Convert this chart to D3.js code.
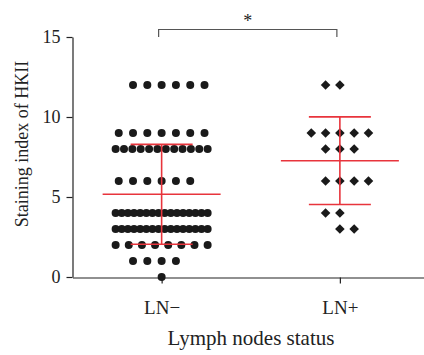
<!DOCTYPE html>
<html>
<head>
<meta charset="utf-8">
<script src="https://cdn.jsdelivr.net/npm/d3@7"></script>
<style>
  body { margin: 0; background: #fff; }
  text { font-family: "Liberation Serif", "Times New Roman", serif; fill: #222; }
</style>
</head>
<body>
<div id="chart"></div>
<script>
// Groups and the individual staining index values (one entry per patient)
const groups = ["LN\u2212", "LN+"];
const lnNeg = [12, 12, 12, 12, 12, 12,
    9, 9, 9, 9, 9, 9, 9,
    8, 8, 8, 8, 8, 8, 8, 8, 8, 8, 8, 8,
    6, 6, 6, 6, 6, 6,
    4, 4, 4, 4, 4, 4, 4, 4, 4, 4, 4, 4, 4, 4, 4, 4,
    3, 3, 3, 3, 3, 3, 3, 3, 3, 3, 3, 3, 3, 3, 3, 3,
    2, 2, 2, 2, 2, 2, 2, 2,
    1, 1, 1, 1,
    0];
const lnPos = [12, 12, 9, 9, 9, 9, 9, 8, 8, 8, 6, 6, 6, 6, 4, 4, 3, 3];
const groupMeans = [5.17, 7.27];
const groupSDs = [3.12, 2.74];
const yTicks = [0, 5, 10, 15];

const width = 424, height = 355;
const serif = '"Liberation Serif", "Times New Roman", serif';

const svg = d3.select("#chart")
    .append("svg")
    .attr("width", width)
    .attr("height", height);

// scales
const y = d3.scaleLinear().domain([0, 15]).range([277, 37]);
const x = d3.scalePoint().domain(groups).range([72.5, 429]).padding(0.5);

// axes
svg.append("g")
    .attr("transform", "translate(72.5,0)")
    .call(d3.axisLeft(y).tickValues(yTicks).tickSize(6).tickSizeOuter(0).tickPadding(6))
    .attr("font-family", serif)
    .call(g => g.selectAll("text").style("font-size", "18px").attr("fill", "#222"))
    .call(g => g.selectAll("path, line").attr("stroke", "#222").attr("stroke-width", 1.2));

svg.append("g")
    .attr("transform", "translate(0,277.5)")
    .call(d3.axisBottom(x).tickSize(6).tickSizeOuter(0).tickPadding(17))
    .attr("font-family", serif)
    .call(g => g.selectAll("text").style("font-size", "19px").attr("fill", "#222"))
    .call(g => g.selectAll("path, line").attr("stroke", "#222").attr("stroke-width", 1.2));

// axis titles
svg.append("text")
    .attr("x", 251)
    .attr("y", 345)
    .attr("text-anchor", "middle")
    .style("font-size", "21px")
    .text("Lymph nodes status");

svg.append("text")
    .attr("transform", "translate(28,144) rotate(-90)")
    .attr("text-anchor", "middle")
    .style("font-size", "18px")
    .text("Staining index of HKII");

// lay the points of one group out in rows, one row per value
const step = 14.3, maxRow = 92;
function layout(values, gi) {
    const rows = Array.from(d3.group(values, d => d)).sort((a, b) => b[0] - a[0]);
    const pts = [];
    rows.forEach(([v, list], i) => {
        const n = list.length;
        const s = Math.min(step, (n - 1) > 0 ? maxRow / (n - 1) : step);
        let start;
        if (s < step || n % 2 === 1) start = -(n - 1) / 2 * s;
        else if ((i + gi) % 2 === 0) start = -(n / 2 - 1) * s;
        else start = -(n / 2) * s;
        list.forEach((d, k) => pts.push({ value: v, dx: start + k * s }));
    });
    return pts;
}

const negPts = layout(lnNeg, 0);
const posPts = layout(lnPos, 1);

svg.selectAll(".dot")
    .data(negPts)
    .enter()
    .append("circle")
    .attr("class", "dot")
    .attr("cx", d => x(groups[0]) + d.dx)
    .attr("cy", d => y(d.value))
    .attr("r", 4)
    .attr("fill", "#1a1a1a");

svg.selectAll(".diamond")
    .data(posPts)
    .enter()
    .append("path")
    .attr("class", "diamond")
    .attr("d", d3.symbol(d3.symbolSquare, 46))
    .attr("transform", d => "translate(" + (x(groups[1]) + d.dx) + "," + y(d.value) + ") rotate(45)")
    .attr("fill", "#1a1a1a");

// mean and SD bars
const red = "#e8343c";
groups.forEach((g, i) => {
    const cx = x(g);
    const m = groupMeans[i], sd = groupSDs[i];
    const bar = svg.append("g").attr("stroke", red).attr("stroke-width", 1.6).attr("fill", "none");
    bar.append("line").attr("x1", cx - 59).attr("x2", cx + 59).attr("y1", y(m)).attr("y2", y(m));
    bar.append("line").attr("x1", cx).attr("x2", cx).attr("y1", y(m - sd)).attr("y2", y(m + sd));
    bar.append("line").attr("x1", cx - 31).attr("x2", cx + 31).attr("y1", y(m + sd)).attr("y2", y(m + sd));
    bar.append("line").attr("x1", cx - 31).attr("x2", cx + 31).attr("y1", y(m - sd)).attr("y2", y(m - sd));
});

// significance bracket
const bx1 = x(groups[0]) - 3, bx2 = x(groups[1]) - 3;
svg.append("path")
    .attr("d", "M" + bx1 + ",37V29.5H" + bx2 + "V37")
    .attr("fill", "none")
    .attr("stroke", "#555")
    .attr("stroke-width", 1.2);

svg.append("text")
    .attr("x", (bx1 + bx2) / 2)
    .attr("y", 27)
    .attr("text-anchor", "middle")
    .style("font-size", "18px")
    .text("*");
</script>
</body>
</html>
